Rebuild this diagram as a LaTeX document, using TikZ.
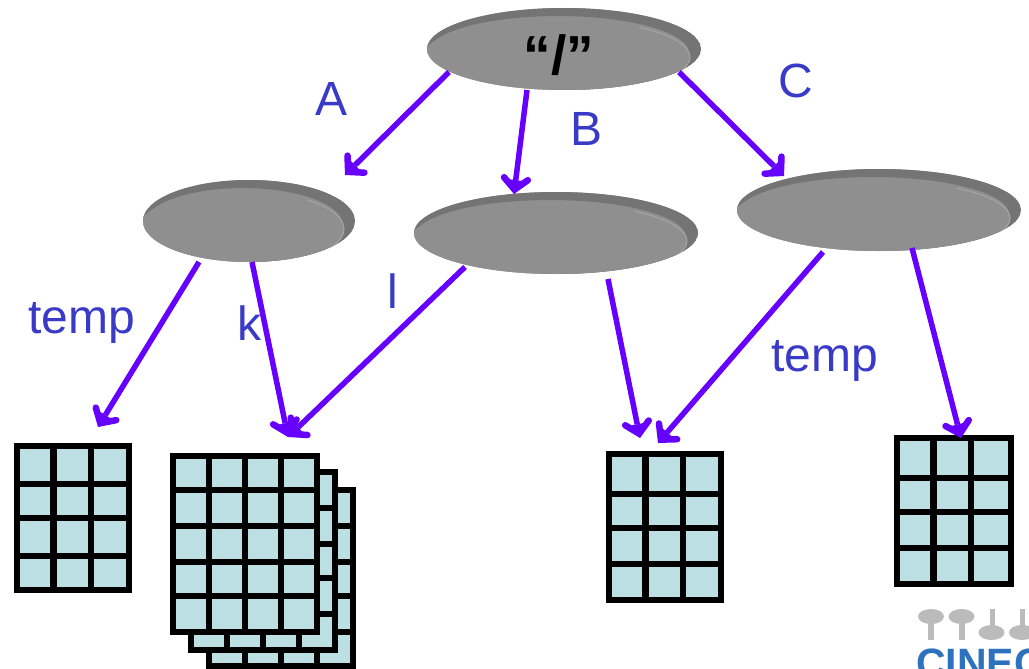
\documentclass[tikz,border=0pt]{standalone}
\usepackage{fontspec}
\setmainfont{Liberation Sans}
\usetikzlibrary{shapes.geometric,arrows.meta}
\definecolor{lab}{HTML}{3A3AC8}
\definecolor{arr}{HTML}{6600FF}
\definecolor{cellc}{HTML}{BBDFE3}
\definecolor{disk}{HTML}{8F8F8F}
\definecolor{lip}{HTML}{747474}
\definecolor{hilite}{HTML}{A6A6A6}
\definecolor{logog}{HTML}{BBBBBB}
\definecolor{logob}{HTML}{2C72BE}
\tikzset{
  x=1pt,y=-1pt,
  arrowline/.style={draw=arr,line width=5.5pt,-{Straight Barb[length=11pt,width=24pt,line width=6.5pt,line cap=round,sep=-14pt]Stealth[length=14pt,width=14pt,inset=0pt,line width=0pt]}},
  lbl/.style={text=lab,font=\fontsize{48}{48}\selectfont,inner sep=0pt,anchor=base},
  gridline/.style={line width=6.6pt,draw=black,line cap=butt},
}
% \lipdisk{name}{cx}{cy}{rx}{ry}
\newcommand{\lipdisk}[5]{%
  \fill[disk] (#2,#3) ellipse [x radius=#4,y radius=#5];
  \begin{scope}
    \clip (#2,#3) ellipse [x radius=#4,y radius=#5];
    \fill[lip,even odd rule] (#2,#3) ellipse [x radius=#4,y radius=#5]
       (#2-6,#3+4) ellipse [x radius=#4-6,y radius=#5-4];
    \fill[disk] (#2-8,#3+8) ellipse [x radius=#4-3,y radius=#5-3];
    \begin{scope}
      \clip (#2+0.55*#4,#3-#5) rectangle (#2+#4,#3+#5);
      \draw[hilite,line width=1pt] (#2-8,#3+8) ellipse [x radius=#4-3,y radius=#5-3];
    \end{scope}
  \end{scope}
  \node[ellipse,minimum width=2*#4,minimum height=2*#5,inner sep=0pt] (#1) at (#2,#3) {};
}
% \gridtab{x-list}{y-list}{x0}{x1}{y0}{y1}
\newcommand{\gridtab}[6]{%
  \fill[cellc] (#3,#5) rectangle (#4,#6);
  \foreach \gx in {#1} \draw[gridline] (\gx,#5-3.3) -- (\gx,#6+3.3);
  \foreach \gy in {#2} \draw[gridline] (#3-3.3,\gy) -- (#4+3.3,\gy);
}
\begin{document}
\begin{tikzpicture}
\useasboundingbox (0,0) rectangle (1029,669);
\fill[white] (0,0) rectangle (1029,669);

% logo (cropped at the edge)
\fill[logog] (931,616.5) ellipse [x radius=13,y radius=7.5];
\fill[logog] (928,620) rectangle (933.5,640);
\fill[logog] (961.5,616.5) ellipse [x radius=13,y radius=7.5];
\fill[logog] (959,620) rectangle (964.5,640);
\fill[logog] (991.5,632.5) ellipse [x radius=13,y radius=7.5];
\fill[logog] (989.5,609) rectangle (994.5,630);
\fill[logog] (1022,632.5) ellipse [x radius=13,y radius=7.5];
\fill[logog] (1020,609) rectangle (1025,630);
\begin{scope}
\clip (0,0) rectangle (1029,669);
\node[text=logob,font=\fontsize{41}{41}\selectfont\bfseries,anchor=base west,inner sep=0pt] (logo) at (916,677) {CINECA};
\end{scope}

% disks
\lipdisk{root}{564}{49}{137}{41}
\lipdisk{da}{249}{221}{106}{41}
\lipdisk{db}{556}{233}{142}{41}
\lipdisk{dc}{879}{210}{142}{41}

\node[text=black,font=\fontsize{55}{55}\selectfont\bfseries,inner sep=0pt,anchor=base] (rootlabel) at (559,75) {“/”};

% tables
\gridtab{17,53.5,91,129}{446,484,518,556,590}{17}{129}{446}{590}
\gridtab{209,245,281,317,353}{490,526,562,596,632,666}{209}{353}{490}{666}
\gridtab{191,227,263,299,335}{472,508,544,578,614,650}{191}{335}{472}{650}
\gridtab{173,209,245,281,317}{456,490,526,562,596,632}{173}{317}{456}{632}
\gridtab{609,645.5,683,721}{454,494,528,564,600}{609}{721}{454}{600}
\gridtab{897,933.5,971,1011}{438,478,512,548,584}{897}{1011}{438}{584}

% connector ends
\coordinate (t1) at (98,427);
\coordinate (t2) at (288,437);
\coordinate (t3) at (640,438);
\coordinate (t3b) at (658,443);
\coordinate (t4) at (961,438);
\coordinate (s1) at (449,72);
\coordinate (s2) at (527,90);
\coordinate (s3) at (679,72);
\coordinate (e1) at (345,175);
\coordinate (e2) at (514,194);
\coordinate (e3) at (784,176);
\coordinate (s4) at (199,262);
\coordinate (s5) at (252,262);
\coordinate (s6) at (465,267);
\coordinate (s7) at (608,279);
\coordinate (s8) at (823,252);
\coordinate (s9) at (912,248);

\draw[arrowline] (s1) -- (e1);
\draw[arrowline] (s2) -- (e2);
\draw[arrowline] (s3) -- (e3);
\draw[arrowline] (s4) -- (t1);
\draw[arrowline] (s5) -- (t2);
\draw[arrowline] (s6) -- (t2);
\draw[arrowline] (s7) -- (t3);
\draw[arrowline] (s8) -- (t3b);
\draw[arrowline] (s9) -- (t4);

% labels
\node[lbl] (la) at (332,115) {A};
\node[lbl] (lb) at (586.5,146) {B};
\node[lbl] (lc) at (795.5,98) {C};
\node[lbl] (ltemp1) at (82,333) {temp};
\node[lbl] (lk) at (249,340) {k};
\node[lbl] (ll) at (393,308) {l};
\node[lbl] (ltemp2) at (825,371) {temp};
\end{tikzpicture}
\end{document}
